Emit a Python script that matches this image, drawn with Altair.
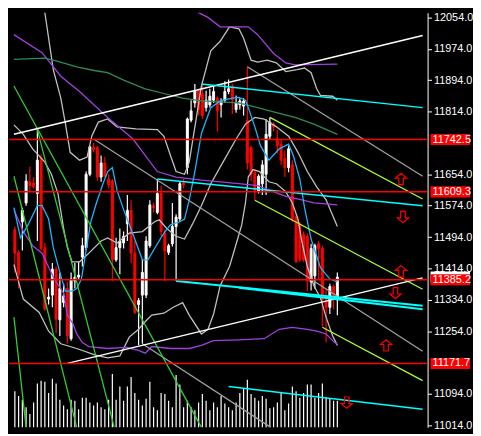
import altair as alt
import pandas as pd

# ---------------- candles (bar index 0..86) ----------------
open_ = [11513, 11455, 11533, 11581, 11635, 11632, 11605, 11695, 11467, 11336,
         11346, 11412, 11283, 11327, 11363, 11235, 11382, 11392, 11443, 11467,
         11654, 11722, 11722, 11647, 11683, 11642, 11637, 11436, 11467, 11479,
         11528, 11562, 11453, 11322, 11346, 11346, 11472, 11574, 11557, 11605,
         11504, 11455, 11477, 11521, 11540, 11632, 11671, 11792, 11836, 11867,
         11860, 11824, 11831, 11843, 11848, 11831, 11843, 11865, 11879, 11819,
         11831, 11828, 11792, 11722, 11659, 11610, 11630, 11654, 11751, 11782,
         11744, 11731, 11695, 11671, 11678, 11545, 11525, 11501, 11496, 11380,
         11395, 11477, 11465, 11334, 11315, 11368, 11334]
high = [11521, 11460, 11569, 11654, 11673, 11647, 11768, 11705, 11479, 11363,
        11428, 11419, 11404, 11375, 11380, 11404, 11428, 11431, 11492, 11661,
        11727, 11734, 11727, 11702, 11698, 11654, 11642, 11492, 11516, 11508,
        11601, 11588, 11484, 11339, 11436, 11496, 11588, 11581, 11642, 11625,
        11513, 11477, 11581, 11552, 11635, 11642, 11799, 11843, 11884, 11872,
        11884, 11867, 11872, 11879, 11853, 11848, 11891, 11896, 11884, 11855,
        11848, 11848, 11928, 11727, 11666, 11654, 11690, 11795, 11799, 11787,
        11768, 11744, 11715, 11727, 11690, 11552, 11533, 11508, 11504, 11477,
        11477, 11484, 11472, 11363, 11375, 11373, 11404]
low = [11404, 11363, 11460, 11574, 11610, 11618, 11484, 11460, 11307, 11322,
       11315, 11249, 11242, 11315, 11222, 11230, 11363, 11387, 11419, 11460,
       11649, 11710, 11637, 11635, 11647, 11618, 11382, 11431, 11399, 11465,
       11484, 11428, 11298, 11218, 11222, 11339, 11467, 11557, 11552, 11496,
       11382, 11448, 11470, 11382, 11533, 11618, 11654, 11787, 11824, 11804,
       11795, 11814, 11824, 11836, 11763, 11799, 11836, 11858, 11807, 11811,
       11819, 11804, 11666, 11637, 11588, 11605, 11601, 11601, 11744, 11763,
       11707, 11678, 11647, 11659, 11533, 11428, 11431, 11431, 11356, 11358,
       11363, 11387, 11266, 11225, 11298, 11310, 11295]
close = [11453, 11399, 11562, 11637, 11625, 11622, 11690, 11465, 11310, 11341,
         11412, 11285, 11363, 11344, 11242, 11387, 11392, 11397, 11472, 11654,
         11724, 11717, 11647, 11683, 11649, 11627, 11436, 11467, 11484, 11496,
         11562, 11453, 11302, 11332, 11404, 11484, 11576, 11569, 11605, 11508,
         11458, 11472, 11521, 11545, 11630, 11627, 11795, 11816, 11867, 11819,
         11804, 11843, 11853, 11865, 11816, 11841, 11865, 11872, 11843, 11836,
         11841, 11841, 11683, 11654, 11613, 11649, 11678, 11756, 11787, 11775,
         11727, 11690, 11671, 11719, 11540, 11431, 11436, 11436, 11382, 11465,
         11472, 11465, 11334, 11315, 11368, 11334, 11392]
volume = [380, 330, 290, 210, 140, 260, 460, 490, 480, 360,
          510, 460, 290, 230, 190, 290, 280, 190, 310, 310,
          260, 230, 260, 210, 190, 290, 560, 290, 430, 280,
          430, 530, 360, 290, 230, 300, 480, 210, 180, 360,
          350, 280, 210, 550, 450, 210, 280, 210, 180, 260,
          350, 280, 180, 260, 210, 330, 250, 210, 180, 260,
          360, 410, 500, 350, 310, 280, 330, 300, 200, 210,
          260, 360, 180, 250, 430, 380, 310, 360, 450, 450,
          310, 360, 460, 310, 300, 280, 280]

# ---------------- indicator curves (bar index, price) ----------------
fast_ma = [(-0.25, 11569), (1.5, 11492), (3.5, 11525), (6, 11574), (7.25, 11574), (9, 11540),
           (10.25, 11467), (12.25, 11395), (13.5, 11356), (15.25, 11356), (16.5, 11363),
           (17.75, 11387), (19, 11460), (20.25, 11533), (21.75, 11581), (23.5, 11630),
           (24.75, 11661), (26, 11671), (27.25, 11613), (29, 11564), (31.5, 11501),
           (34, 11436), (35.5, 11436), (38, 11477), (39.75, 11504), (41.5, 11525),
           (44, 11533), (45.25, 11540), (46.5, 11588), (48, 11661), (49.75, 11758),
           (52.25, 11824), (54.75, 11841), (58, 11848), (59.75, 11850), (61.5, 11843),
           (62.25, 11824), (64, 11775), (65.5, 11727), (67.75, 11690), (70.5, 11719),
           (73, 11731), (74.25, 11702), (76, 11642), (77.25, 11569), (79, 11489),
           (81.5, 11416), (84, 11387), (86, 11380)]
band_upper = [(6, 12114), (8, 12066), (10.25, 11921), (12.25, 11848), (13.5, 11782),
              (14.75, 11710), (17.25, 11690), (19.25, 11698), (20.5, 11751), (22.25, 11787),
              (24.75, 11795), (27.25, 11775), (32.25, 11770), (38, 11768), (39.75, 11751),
              (41.5, 11702), (43, 11661), (45.25, 11654), (46.5, 11685), (49.75, 11879),
              (52.25, 11969), (54.75, 11993), (57.25, 12030), (59.75, 12025), (61, 12001),
              (63, 11945), (64.75, 11940), (67.25, 11945), (69.75, 11938), (72.25, 11916),
              (75.25, 11921), (77.25, 11925), (79, 11913), (80.5, 11872), (81.5, 11855),
              (84.75, 11853), (86, 11843)]
band_mid = [(-0.25, 11780), (2.25, 11756), (4.75, 11719), (8, 11685), (9.75, 11654),
            (11.5, 11605), (13, 11516), (14, 11467), (15.25, 11431), (17.25, 11431),
            (19.75, 11453), (23, 11484), (24.75, 11492), (27.25, 11479), (30.5, 11504),
            (34, 11508), (37.25, 11533), (38.5, 11538), (40.5, 11516), (43, 11496),
            (45.25, 11489), (47.25, 11525), (49.75, 11574), (52.25, 11630), (55.5, 11685),
            (59, 11744), (61.5, 11782), (64, 11799), (66.5, 11795), (69.75, 11775),
            (73, 11751), (75.5, 11710), (78, 11661), (80.5, 11622), (83, 11589), (86, 11521)]
band_lower = [(-0.25, 11424), (2.25, 11336), (6.5, 11302), (9, 11254), (12.25, 11222),
              (16.5, 11210), (21.5, 11193), (24.75, 11186), (28, 11191), (30.5, 11239),
              (33, 11259), (34.75, 11278), (36.5, 11295), (39.75, 11300), (42.25, 11315),
              (44.75, 11327), (46.5, 11295), (49.75, 11247), (51.5, 11259), (53, 11298),
              (54.75, 11370), (57.25, 11419), (59.25, 11484), (60.5, 11525), (61.5, 11581),
              (62.25, 11647), (63.5, 11666), (65.25, 11661), (67.75, 11635), (69.75, 11630),
              (72.25, 11610), (74, 11581), (75.5, 11540), (76.5, 11484), (78, 11419),
              (79.75, 11370), (81.5, 11339), (83, 11290), (84.75, 11242), (86, 11218)]
env_upper = [(46, 12102), (49, 12066), (51.5, 12054), (54.75, 12030), (59.75, 12030),
             (62.25, 12030), (64.75, 12010), (69, 11962), (72.25, 11938), (74.75, 11933),
             (86, 11935)]
env_mid = [(-0.25, 12010), (7.25, 11964), (12.25, 11904), (17.25, 11865), (24.75, 11799),
           (31.5, 11744), (34.75, 11702), (38, 11661), (43, 11647), (49.75, 11639),
           (59.75, 11630), (64.75, 11625), (68, 11613), (72.25, 11598), (76.5, 11589),
           (79.75, 11581), (86, 11576)]
env_lower = [(-0.25, 11564), (2.25, 11508), (4.75, 11472), (7.25, 11453), (10.5, 11387),
             (13, 11351), (14, 11295), (15.5, 11273), (16.5, 11247), (18, 11225),
             (19.75, 11215), (24.75, 11210), (29.75, 11213), (33, 11205), (34.75, 11198),
             (36.5, 11215), (41.5, 11210), (46.5, 11210), (49.75, 11218), (53, 11230),
             (59.75, 11232), (66.5, 11235), (70.5, 11259), (74, 11264), (78, 11259),
             (80.5, 11254), (83, 11247), (84.75, 11230), (86, 11220)]
slow_ma = [(-0.25, 11947), (8, 11950), (11.5, 11942), (16.5, 11928), (21.5, 11918),
           (24.75, 11913), (29, 11894), (34.75, 11872), (39.75, 11860), (44.75, 11848),
           (49.75, 11841), (59.75, 11836), (64.75, 11824), (69.75, 11811), (74.75, 11799),
           (79.75, 11782), (86, 11756)]

# ---------------- trend lines (bar index, price) ----------------
white_lines = {"w1": [(-0.25, 11756), (108.75, 12008)],
               "w2": [(14, 11172), (108.75, 11390)]}
cyan_lines = {"c1": [(49.75, 11884), (108.75, 11824)],
              "c2": [(38, 11642), (108.75, 11574)],
              "c4": [(57, 11113), (108.75, 11055)]}
cyan_thick = {"c3a": [(43, 11382), (108.75, 11319)],
              "c3b": [(59.75, 11365), (108.75, 11310)]}
gray_lines = {"g1": [(21, 11744), (108.75, 11203)],
              "g2": [(62, 11928), (108.75, 11649)],
              "g3": [(34, 11222), (68.25, 11009)]}
green_lines = {"f1": [(-0.25, 11879), (49.75, 11009)],
               "f2": [(6, 11768), (26.5, 11009)],
               "f3": [(-0.25, 11649), (16.5, 11009)],
               "f4": [(-0.25, 11290), (3, 11009)]}
lime_lines = {"l1": [(68, 11799), (108.75, 11591)],
              "l2": [(64, 11588), (108.75, 11361)],
              "l3": [(82, 11264), (108.75, 11128)]}

levels = [11742.5, 11609.3, 11385.2, 11171.7]
arrows_up = [(103, 11642), (103, 11407), (99, 11218)]
arrows_down = [(103.5, 11545), (101.5, 11351), (88.5, 11072)]
# axis labels shown (11734 and 11174 are hidden behind the level boxes)
tick_values = [11014, 11094, 11254, 11334, 11414, 11494, 11574, 11654,
               11814, 11894, 11974, 12054]

# ---------------- chart ----------------
W, H = 424, 420
RED = "#FF0000"
FONT = "Liberation Sans"

xs = alt.Scale(domain=[-0.25, 108.75], nice=False, zero=False)
ys = alt.Scale(domain=[11009, 12066], nice=False, zero=False)
yaxis = alt.Axis(orient="right", values=tick_values, format=".1f", labelColor="white",
                 tickColor="white", domainColor="white", tickSize=4, labelPadding=2,
                 labelFontSize=11, labelFont=FONT, grid=False, title=None,
                 labelOverlap=False, labelFlush=False)

n = len(close)
cdf = pd.DataFrame({"i": list(range(n)), "open": open_, "high": high, "low": low,
                    "close": close, "vol": volume})
X = alt.X("i:Q", scale=xs, axis=None)
col = alt.condition("datum.close >= datum.open", alt.value("white"), alt.value(RED))

wicks = alt.Chart(cdf).mark_rule(strokeWidth=1.2).encode(
    x=X, y=alt.Y("low:Q", scale=ys, axis=yaxis), y2="high:Q", color=col)
bodies = alt.Chart(cdf).mark_bar(size=2, strokeWidth=1).encode(
    x=X, y=alt.Y("open:Q", scale=ys, axis=yaxis), y2="close:Q", fill=col, stroke=col)


def pts_df(d):
    return pd.DataFrame([{"name": k, "i": i, "p": p} for k, pts in d.items() for i, p in pts])


def lines(d, color, width=1.3):
    return alt.Chart(pts_df(d)).mark_line(color=color, strokeWidth=width, clip=True).encode(
        x=alt.X("i:Q", scale=xs, axis=None),
        y=alt.Y("p:Q", scale=ys, axis=yaxis),
        detail="name:N")


bands = lines({"u": band_upper, "m": band_mid, "l": band_lower}, "#C0C0C0")
env = lines({"u": env_upper, "m": env_mid, "l": env_lower}, "#A040E0")
slow = lines({"s": slow_ma}, "#2E8B57")
fast = lines({"f": fast_ma}, "#1EB4FF")
tl_gray = lines(gray_lines, "#A0A0A0")
tl_green = lines(green_lines, "#32CD32")
tl_lime = lines(lime_lines, "#ADFF2F")
tl_white = lines(white_lines, "white", 1.5)
tl_cyan = lines(cyan_lines, "#00FFFF", 1.5)
tl_cyan2 = lines(cyan_thick, "#00FFFF", 2.2)

ldf = pd.DataFrame({"level": levels})
hlines = alt.Chart(ldf).mark_rule(color=RED, strokeWidth=1.5).encode(
    y=alt.Y("level:Q", scale=ys, axis=yaxis))

BOX = "M -1 -0.28 L 1 -0.28 L 1 0.28 L -1 0.28 Z"
bid = alt.Chart(pd.DataFrame({"level": [close[-1]]})).mark_point(
    shape=BOX, size=1600, filled=True, color="white", opacity=1, strokeWidth=0).encode(
    x=alt.value(W + 23), y=alt.Y("level:Q", scale=ys, axis=yaxis))
boxes = alt.Chart(ldf).mark_point(
    shape=BOX, size=1600, filled=True, color=RED, opacity=1, strokeWidth=0).encode(
    x=alt.value(W + 23), y=alt.Y("level:Q", scale=ys, axis=yaxis))
box_text = alt.Chart(ldf).mark_text(
    align="left", baseline="middle", color="white", fontSize=11, font=FONT).encode(
    x=alt.value(W + 5), y=alt.Y("level:Q", scale=ys, axis=yaxis),
    text=alt.Text("level:Q", format=".1f"))

UP = "M 0 -1 L 1 -0.15 L 0.4 -0.15 L 0.4 1 L -0.4 1 L -0.4 -0.15 L -1 -0.15 Z"
DOWN = "M 0 1 L 1 0.15 L 0.4 0.15 L 0.4 -1 L -0.4 -1 L -0.4 0.15 L -1 0.15 Z"
adf_up = pd.DataFrame(arrows_up, columns=["i", "p"])
adf_dn = pd.DataFrame(arrows_down, columns=["i", "p"])
arr_up = alt.Chart(adf_up).mark_point(shape=UP, size=130, filled=False, color=RED,
                                      strokeWidth=1.2, opacity=1).encode(
    x=alt.X("i:Q", scale=xs, axis=None), y=alt.Y("p:Q", scale=ys, axis=yaxis))
arr_dn = alt.Chart(adf_dn).mark_point(shape=DOWN, size=130, filled=False, color=RED,
                                      strokeWidth=1.2, opacity=1).encode(
    x=alt.X("i:Q", scale=xs, axis=None), y=alt.Y("p:Q", scale=ys, axis=yaxis))

price = alt.layer(wicks, bodies, bands, env, slow, fast, tl_gray, tl_green, tl_lime,
                  tl_white, tl_cyan, tl_cyan2, hlines, arr_up, arr_dn, bid, boxes, box_text)

vol = alt.Chart(cdf).mark_rule(color="white", strokeWidth=1.2).encode(
    x=X,
    y=alt.Y("vol:Q", scale=alt.Scale(domain=[0, 4360], nice=False), axis=None),
    y2=alt.value(H))

chart = alt.layer(vol, price).resolve_scale(y="independent").properties(
    width=W, height=H, background="black", padding=0
).configure_view(stroke=None)

chart.save("out.html", embed_options={"renderer": "svg", "actions": False})
